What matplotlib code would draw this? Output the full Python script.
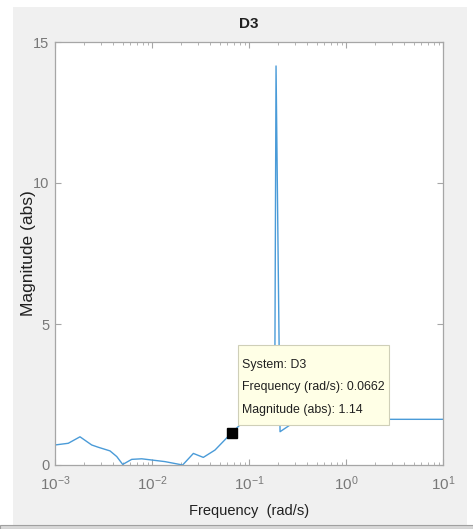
import numpy as np
import matplotlib.pyplot as plt
import matplotlib.transforms as mtransforms
from matplotlib.patches import Rectangle

# frequency (rad/s) and magnitude (abs)
freq = [0.001, 0.00137, 0.00181, 0.00239, 0.00279, 0.00369, 0.00433, 0.00499,
        0.00618, 0.00783, 0.0136, 0.0207, 0.0267, 0.0338, 0.0446, 0.0662,
        0.0807, 0.112, 0.158, 0.184, 0.19, 0.209, 0.265, 0.355, 0.63, 10.0]
mag = [0.71, 0.77, 1.00, 0.71, 0.63, 0.50, 0.30, 0.02,
       0.20, 0.22, 0.12, 0.0, 0.41, 0.27, 0.53, 1.14,
       1.42, 1.65, 1.80, 2.0, 14.15, 1.18, 1.42, 1.55, 1.62, 1.62]

# data tip
tip_freq = 0.0662
tip_mag = 1.14
tip_lines = ["System: D3", "Frequency (rad/s): 0.0662", "Magnitude (abs): 1.14"]

title = "D3"
xlab = "Frequency  (rad/s)"
ylab = "Magnitude (abs)"

fnt = ['Liberation Sans', 'DejaVu Sans']
grey = '#787878'

fig = plt.figure(figsize=(4.73, 5.29), dpi=100, facecolor='#f0f0f0')

# white margins around the captured window
fig.patches.append(Rectangle((0, 0), 13 / 473, 1, transform=fig.transFigure,
                             facecolor='white', edgecolor='none', zorder=-5))
fig.patches.append(Rectangle((0, 1 - 7 / 529), 1, 7 / 529, transform=fig.transFigure,
                             facecolor='white', edgecolor='none', zorder=-5))
fig.patches.append(Rectangle((467 / 473, 0), 6 / 473, 1, transform=fig.transFigure,
                             facecolor='white', edgecolor='none', zorder=-5))
fig.patches.append(Rectangle((0, 0), 1, 4 / 529, transform=fig.transFigure,
                             facecolor='#d8d8d8', edgecolor='#a0a0a0', lw=0.8, zorder=-5))

ax = fig.add_axes([55 / 473, 64 / 529, 388 / 473, 423 / 529])
ax.set_facecolor('white')
ax.plot(freq, mag, color='#4a9bd8', lw=1.0)
ax.plot([tip_freq], [tip_mag], 's', color='black', ms=6.5, zorder=4)

ax.set_xscale('log')
ax.set_xlim(1e-3, 10)
ax.set_ylim(0, 15)
ax.set_yticks([0, 5, 10, 15])

for s in ax.spines.values():
    s.set_color('#a6a6a6')
    s.set_linewidth(0.9)
ax.tick_params(which='both', direction='in', top=True, right=True,
               colors='#a6a6a6', labelcolor=grey)
ax.tick_params(which='major', length=4)
ax.tick_params(which='minor', length=2.5)
ax.tick_params(axis='x', which='major', pad=7, labelsize=11)
ax.tick_params(axis='y', which='major', pad=4, labelsize=10.5)
for lbl in ax.get_xticklabels() + ax.get_yticklabels():
    lbl.set_family(fnt)

ax.set_title(title, fontsize=11, fontweight='bold', family=fnt, color='#202020', pad=10)
ax.set_xlabel(xlab, fontsize=10.5, family=fnt, color='#202020', labelpad=8)
ax.set_ylabel(ylab, fontsize=12.5, family=fnt, color='#202020')
ax.yaxis.set_label_coords(-0.05, 0.5)

# data tip box, placed in pixels relative to the marked point
fig.canvas.draw()
px, py = ax.transData.transform((tip_freq, tip_mag))
tip_tr = mtransforms.Affine2D().translate(px, py)
ax.add_patch(Rectangle((6, 8), 151, 80, transform=tip_tr, facecolor='#ffffe6',
                       edgecolor='#cfcfb8', lw=0.8, zorder=5, clip_on=False))
for i, line in enumerate(tip_lines):
    ax.annotate(line, xy=(tip_freq, tip_mag), xycoords='data',
                xytext=(10, 68 - 22.5 * i), textcoords='offset pixels',
                ha='left', va='center', fontsize=8.9, family=fnt,
                color='#202020', zorder=6)

fig.savefig('out.png', dpi=100, facecolor=fig.get_facecolor())
